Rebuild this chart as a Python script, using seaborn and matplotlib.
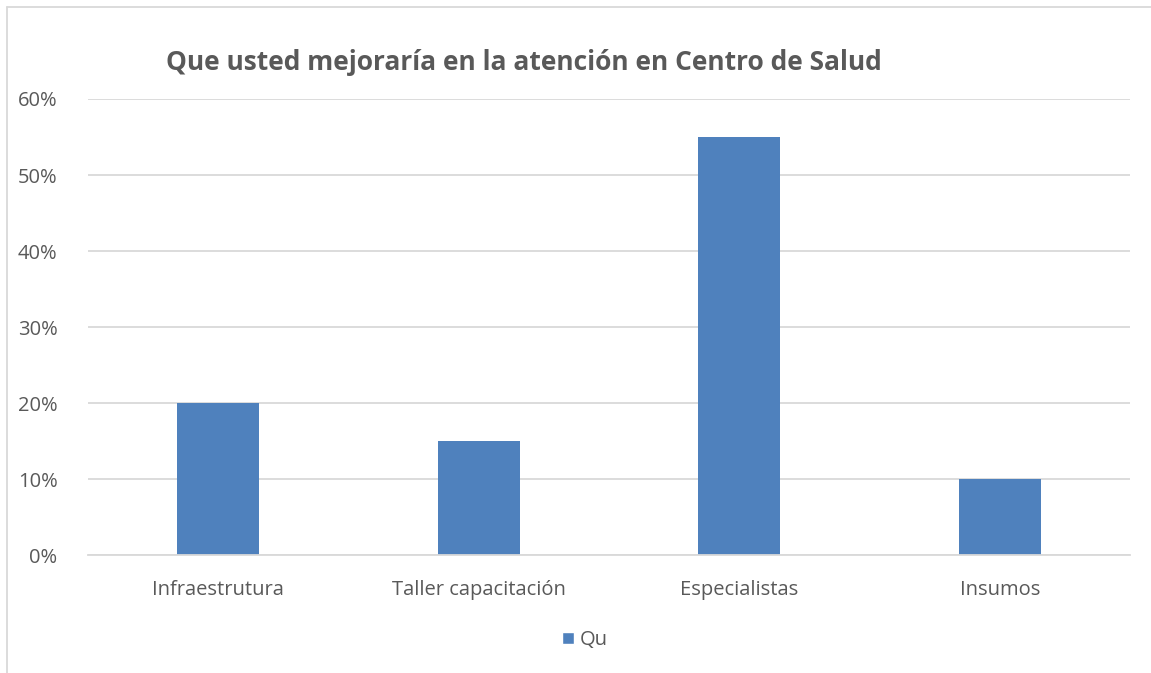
import matplotlib.pyplot as plt
import pandas as pd
import seaborn as sns
from matplotlib.patches import Patch
from matplotlib.ticker import PercentFormatter

categorias = ['Infraestrutura', 'Taller capacitación', 'Especialistas', 'Insumos']
valores = [0.20, 0.15, 0.55, 0.10]
serie = 'Qu'
titulo = 'Que usted mejoraría en la atención en Centro de Salud'

df = pd.DataFrame({'categoria': categorias, 'valor': valores})

sns.set_theme(style='white')
plt.rcParams['font.family'] = ['Open Sans', 'DejaVu Sans']

gris = '#595959'
azul = '#4F81BD'

fig = plt.figure(figsize=(11.51, 6.73), dpi=100)
ax = fig.add_axes([0.0765, 0.1753, 0.9052, 0.6776])

sns.barplot(data=df, x='categoria', y='valor', color=azul, width=0.315,
            saturation=1, linewidth=0, ax=ax)

ax.set_ylim(0, 0.6)
ax.set_xlim(-0.5, 3.5)
ax.set_yticks([0, 0.1, 0.2, 0.3, 0.4, 0.5, 0.6])
ax.yaxis.set_major_formatter(PercentFormatter(1.0, decimals=0))
ax.grid(axis='y', color='#D9D9D9', linewidth=1.3)
ax.set_axisbelow(True)
for s in ['top', 'right', 'left']:
    ax.spines[s].set_visible(False)
ax.spines['bottom'].set_color('#D9D9D9')
ax.spines['bottom'].set_linewidth(1.3)
ax.tick_params(axis='both', length=0, labelsize=14.5, labelcolor=gris)
ax.tick_params(axis='x', pad=18)
ax.tick_params(axis='y', pad=22)
ax.set_xlabel('')
ax.set_ylabel('')

fig.text(524 / 1151, 1 - 62 / 673, titulo, ha='center', va='center',
         fontsize=19, fontweight='bold', color=gris)

fig.legend(handles=[Patch(facecolor=azul, label=serie)], loc='center',
           bbox_to_anchor=(585 / 1151, 1 - 640 / 673), frameon=False,
           fontsize=14.5, labelcolor=gris, handlelength=0.6, handleheight=0.6,
           handletextpad=0.3)

# marco del grafico (borde izquierdo y superior)
fig.add_artist(plt.Line2D([7 / 1151, 7 / 1151], [0, 1 - 7 / 673],
                          color='#D9D9D9', linewidth=1.3))
fig.add_artist(plt.Line2D([7 / 1151, 1], [1 - 7 / 673, 1 - 7 / 673],
                          color='#D9D9D9', linewidth=1.3))

fig.savefig('out.png', dpi=100, facecolor='white')
